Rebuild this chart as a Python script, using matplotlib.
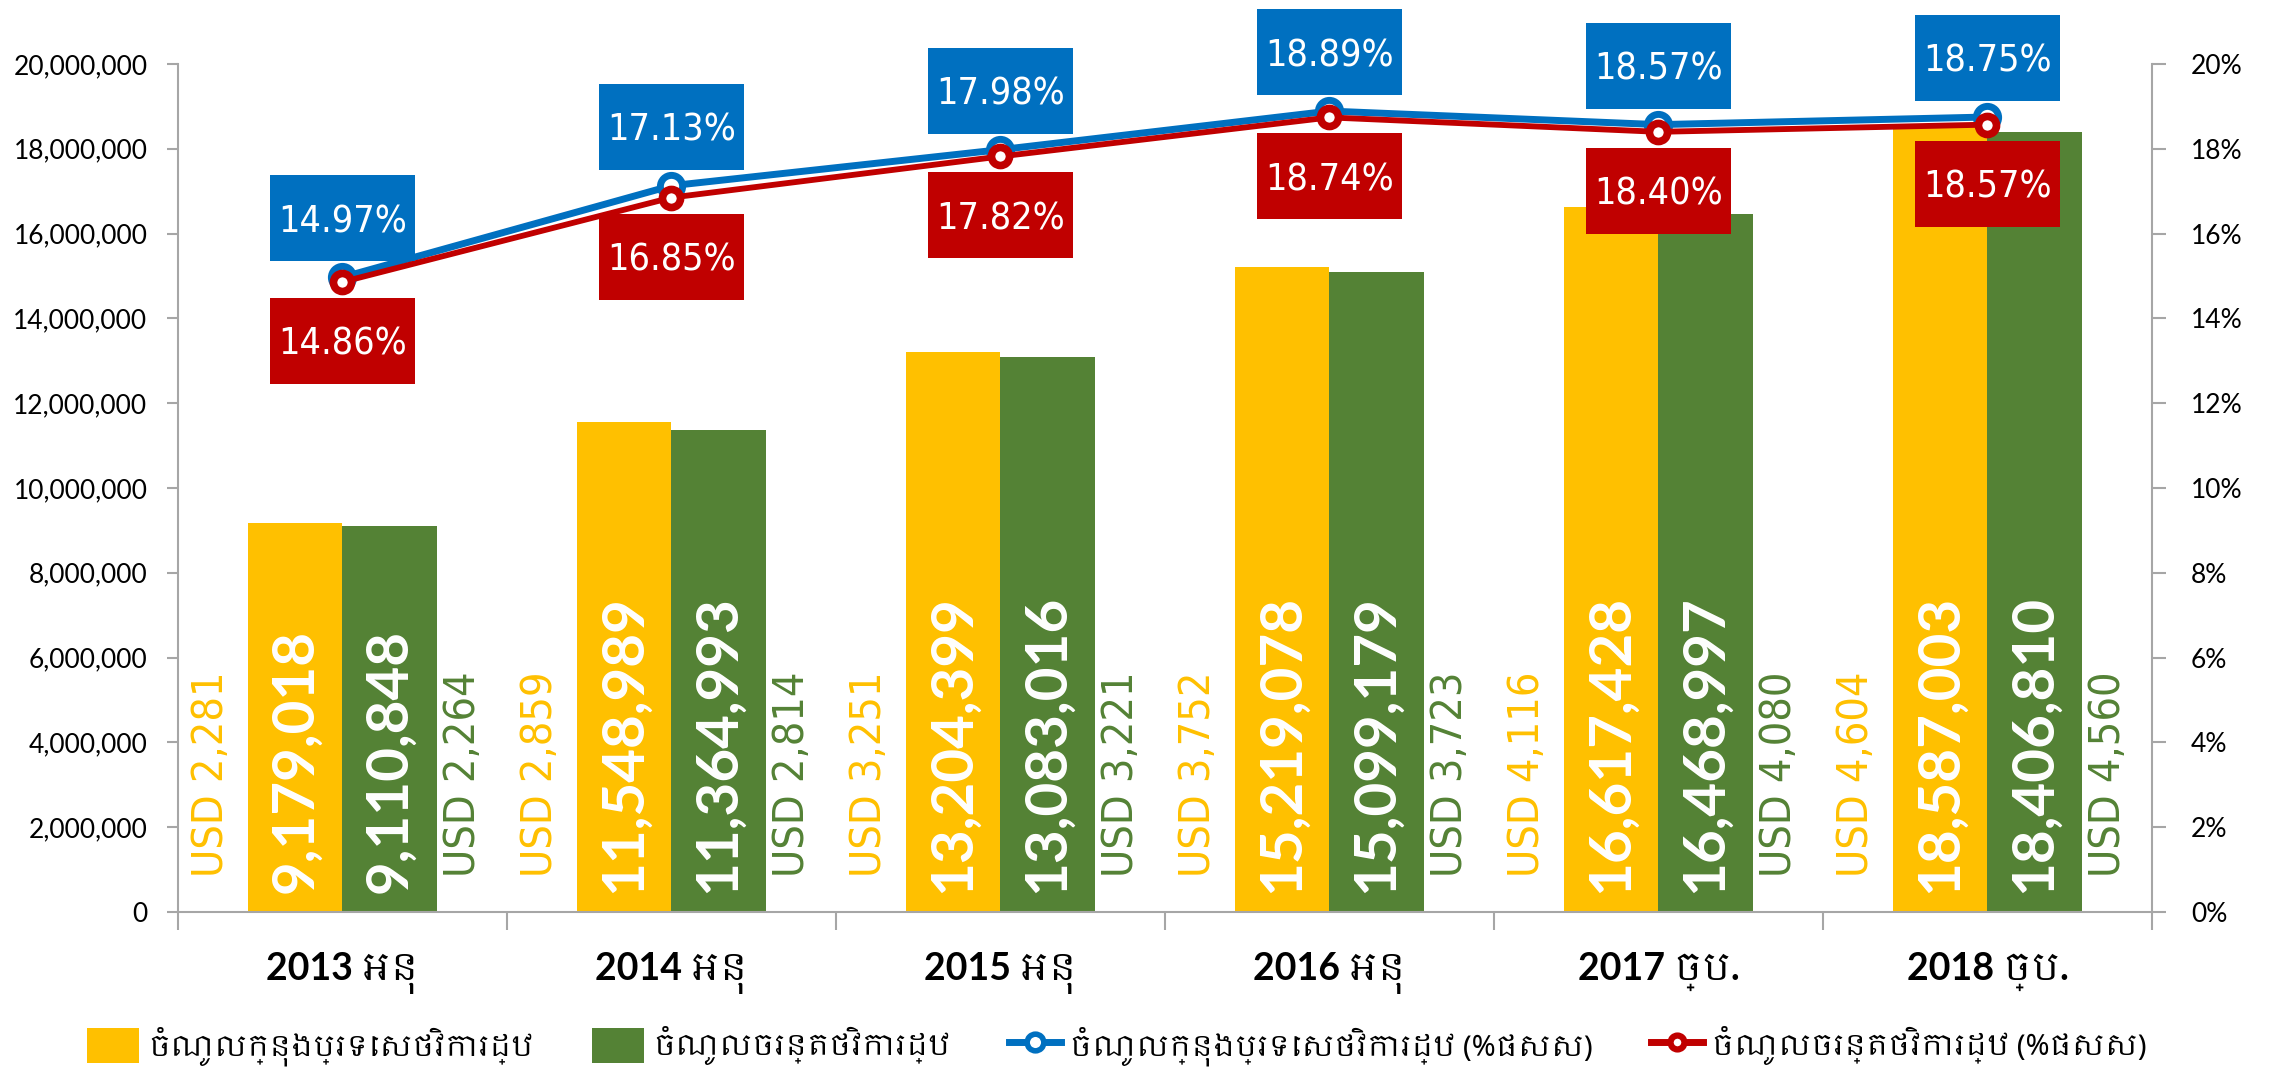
import matplotlib
matplotlib.use("Agg")
import matplotlib.pyplot as plt
import matplotlib.font_manager as fm
from matplotlib.patches import Rectangle, Patch
from matplotlib.lines import Line2D
from matplotlib.ticker import FuncFormatter, MultipleLocator
import matplotlib.transforms as mtransforms
import numpy as np

# data
years = ['2013 អនុ', '2014 អនុ', '2015 អនុ', '2016 អនុ', '2017 ច្ប.', '2018 ច្ប.']
domestic = [9179018, 11548989, 13204399, 15219078, 16617428, 18587003]
current = [9110848, 11364993, 13083016, 15099179, 16468997, 18406810]
domestic_usd = [2281, 2859, 3251, 3752, 4116, 4604]
current_usd = [2264, 2814, 3221, 3723, 4080, 4560]
domestic_pct = [14.97, 17.13, 17.98, 18.89, 18.57, 18.75]
current_pct = [14.86, 16.85, 17.82, 18.74, 18.40, 18.57]

labels = ['ចំណូលក្នុងប្រទេសថវិការដ្ឋ', 'ចំណូលចរន្តថវិការដ្ឋ',
          'ចំណូលក្នុងប្រទេសថវិការដ្ឋ (%ផសស)', 'ចំណូលចរន្តថវិការដ្ឋ (%ផសស)']

yellow = '#FFC000'
green = '#548235'
blue = '#0070C0'
red = '#C00000'
grey = '#A6A6A6'

# look for any installed Khmer font, fall back to DejaVu
khmer_fonts = sorted({f.name for f in fm.fontManager.ttflist if 'khmer' in f.name.lower()})
latin = 'Lato'
cat_family = [latin] + khmer_fonts + ['DejaVu Sans']
leg_family = khmer_fonts + ['DejaVu Sans']

fig = plt.figure(figsize=(22.79, 10.89), dpi=100)
ax = fig.add_axes([178 / 2279, 1 - 912 / 1089, (2152 - 178) / 2279, (912 - 64) / 1089])
ax2 = ax.twinx()

x = np.arange(len(years))
bw = 0.286
ax.bar(x - bw / 2, domestic, bw, color=yellow, zorder=2)
ax.bar(x + bw / 2, current, bw, color=green, zorder=2)

ax.set_xlim(-0.5, len(years) - 0.5)
ax.set_ylim(0, 20000000)
ax.yaxis.set_major_locator(MultipleLocator(2000000))
ax.yaxis.set_major_formatter(FuncFormatter(lambda v, p: f'{int(v):,}'))
ax2.set_ylim(0, 20)
ax2.yaxis.set_major_locator(MultipleLocator(2))
ax2.yaxis.set_major_formatter(FuncFormatter(lambda v, p: f'{int(v)}%'))

for a in (ax, ax2):
    for s in a.spines.values():
        s.set_color(grey)
        s.set_linewidth(1.5)
    a.spines['top'].set_visible(False)
ax.spines['right'].set_visible(False)
ax2.spines['left'].set_visible(False)
ax2.spines['bottom'].set_visible(False)

ax.tick_params(axis='y', direction='out', length=8, width=1.5, color=grey, pad=14,
               labelsize=19)
ax2.tick_params(axis='y', direction='out', length=10, width=1.5, color=grey, pad=18,
                labelsize=19)
for t in ax.get_yticklabels() + ax2.get_yticklabels():
    t.set_family(latin)

# category ticks at the group boundaries, labels at the centres
ax.set_xticks(np.arange(len(years) + 1) - 0.5)
ax.set_xticklabels([])
ax.tick_params(axis='x', direction='out', length=13, width=1.5, color=grey)
for i, yr in enumerate(years):
    ax.annotate(yr, (i, 0), xytext=(0, -40), textcoords='offset pixels',
                ha='center', va='top', fontsize=27, fontweight='bold',
                family=cat_family, fontstretch='condensed', annotation_clip=False)

# values inside the bars and USD per head beside them
for i in range(len(years)):
    ax.annotate(f'{domestic[i]:,}', (x[i] - bw / 2, 0), xytext=(0, 19),
                textcoords='offset pixels', rotation=90, ha='center', va='bottom',
                color='white', fontsize=42, fontweight='bold', family=latin, zorder=3)
    ax.annotate(f'{current[i]:,}', (x[i] + bw / 2, 0), xytext=(0, 19),
                textcoords='offset pixels', rotation=90, ha='center', va='bottom',
                color='white', fontsize=42, fontweight='bold', family=latin, zorder=3)
    ax.annotate(f'USD {domestic_usd[i]:,}', (x[i] - 0.4, 0), xytext=(0, 35),
                textcoords='offset pixels', rotation=90, ha='center', va='bottom',
                color=yellow, fontsize=31, family='DejaVu Sans', fontstretch='condensed')
    ax.annotate(f'USD {current_usd[i]:,}', (x[i] + 0.365, 0), xytext=(0, 35),
                textcoords='offset pixels', rotation=90, ha='center', va='bottom',
                color=green, fontsize=31, family='DejaVu Sans', fontstretch='condensed')

# percentage lines
ax2.plot(x, domestic_pct, color=blue, lw=5, marker='o', ms=16, mew=5,
         mfc='white', mec=blue, zorder=4, solid_capstyle='round')
ax2.plot(x, current_pct, color=red, lw=4.2, marker='o', ms=13, mew=5.5,
         mfc='white', mec=red, zorder=5, solid_capstyle='round')

# boxed labels (blue above the point, red below), sized in pixels
box_w, box_h, gap = 145, 86, 16
for i in range(len(years)):
    for val, col, up in ((domestic_pct[i], blue, True), (current_pct[i], red, False)):
        tr = fig.dpi_scale_trans + mtransforms.ScaledTranslation(x[i], val, ax2.transData)
        y0 = gap if up else -gap - box_h
        ax2.add_patch(Rectangle((-box_w / 200, y0 / 100), box_w / 100, box_h / 100,
                                transform=tr, facecolor=col, edgecolor='none',
                                clip_on=False, zorder=6))
        ax2.annotate(f'{val:.2f}%', (x[i], val), xytext=(0, y0 + box_h / 2),
                     textcoords='offset pixels', ha='center', va='center_baseline',
                     color='white', fontsize=27, family='DejaVu Sans',
                     fontstretch='condensed', zorder=7)

handles = [Patch(facecolor=yellow), Patch(facecolor=green),
           Line2D([], [], color=blue, lw=5, marker='o', ms=12, mew=4, mfc='white', mec=blue),
           Line2D([], [], color=red, lw=5, marker='o', ms=10, mew=4.5, mfc='white', mec=red)]
fig.legend(handles, labels, ncol=4, loc='center', bbox_to_anchor=(0.49, 1 - 1046 / 1089),
           frameon=False, prop={'family': leg_family, 'size': 21},
           handlelength=1.8, handleheight=1.5, handletextpad=0.3, columnspacing=2.0)

fig.savefig('out.png', dpi=100)
